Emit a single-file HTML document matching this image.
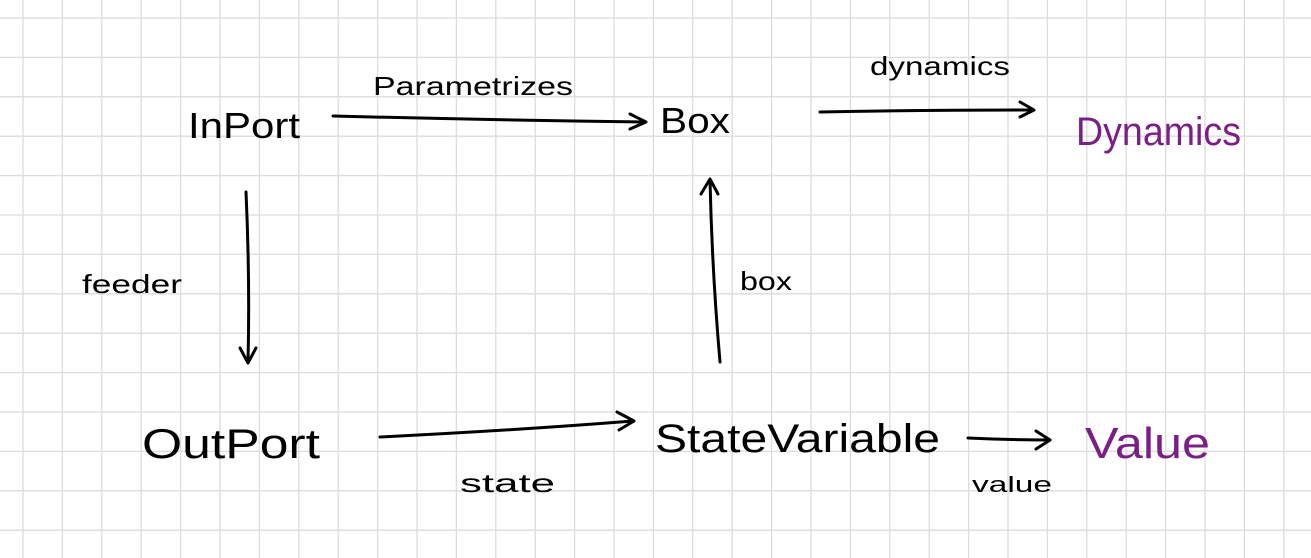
<!DOCTYPE html>
<html><head><meta charset="utf-8"><style>
html,body{margin:0;padding:0;background:#fff;width:1311px;height:558px;overflow:hidden}
svg{display:block}
text{font-family:"Liberation Sans",sans-serif;font-weight:normal}
</style></head><body>
<svg width="1311" height="558" xmlns="http://www.w3.org/2000/svg">
<g stroke="#dcdcdc" stroke-width="1.3">
<path d="M23 0V558M62.4 0V558M101.8 0V558M141.2 0V558M180.6 0V558M220 0V558M259.4 0V558M298.8 0V558M338.2 0V558M377.6 0V558M417 0V558M456.4 0V558M495.8 0V558M535.2 0V558M574.6 0V558M614 0V558M653.4 0V558M692.8 0V558M732.2 0V558M771.6 0V558M811 0V558M850.4 0V558M889.8 0V558M929.2 0V558M968.6 0V558M1008 0V558M1047.4 0V558M1086.8 0V558M1126.2 0V558M1165.6 0V558M1205 0V558M1244.4 0V558M1283.8 0V558"/>
<path d="M0 18H1311M0 57.4H1311M0 96.8H1311M0 136.2H1311M0 175.6H1311M0 215H1311M0 254.4H1311M0 293.8H1311M0 333.2H1311M0 372.6H1311M0 412H1311M0 451.4H1311M0 490.8H1311M0 530.2H1311"/>
</g>
<g fill="#000" font-size="36">
<text x="188" y="138" textLength="112" lengthAdjust="spacingAndGlyphs">InPort</text>
<text x="660" y="133" textLength="70" lengthAdjust="spacingAndGlyphs">Box</text>
<text x="142" y="458" textLength="178" lengthAdjust="spacingAndGlyphs" font-size="42">OutPort</text>
<text x="655" y="452" textLength="285" lengthAdjust="spacingAndGlyphs" font-size="40">StateVariable</text>
</g>
<g fill="#000" font-size="26">
<text x="373" y="95" textLength="200" lengthAdjust="spacingAndGlyphs">Parametrizes</text>
<text x="870" y="75" textLength="140" lengthAdjust="spacingAndGlyphs">dynamics</text>
<text x="82" y="293" textLength="100" lengthAdjust="spacingAndGlyphs">feeder</text>
<text x="740" y="290" textLength="52" lengthAdjust="spacingAndGlyphs">box</text>
<text x="460" y="492" textLength="95" lengthAdjust="spacingAndGlyphs">state</text>
<text x="972" y="492" textLength="80" lengthAdjust="spacingAndGlyphs" font-size="22">value</text>
</g>
<g fill="#7b1f86">
<text x="1076" y="145" font-size="40" textLength="165" lengthAdjust="spacingAndGlyphs">Dynamics</text>
<text x="1085" y="458" font-size="44" textLength="125" lengthAdjust="spacingAndGlyphs">Value</text>
</g>
<g stroke="#000" stroke-width="3" fill="none" stroke-linecap="round" stroke-linejoin="round">
<path d="M333 116 Q490 120 645 122"/><path d="M630 114 L646 122 L630 129"/>
<path d="M820 112 Q930 110 1033 110"/><path d="M1020 102 L1034 110 L1020 117"/>
<path d="M246 192 Q250 280 248 362"/><path d="M240 348 L248 363 L256 348"/>
<path d="M720 362 Q712 270 710 180"/><path d="M701 194 L710 179 L718 194"/>
<path d="M380 437 Q520 430 633 421"/><path d="M617 412 L634 421 L619 430"/>
<path d="M968 438 Q1010 440 1050 440"/><path d="M1036 431 L1050 440 L1036 449"/>
</g>
</svg>
</body></html>
